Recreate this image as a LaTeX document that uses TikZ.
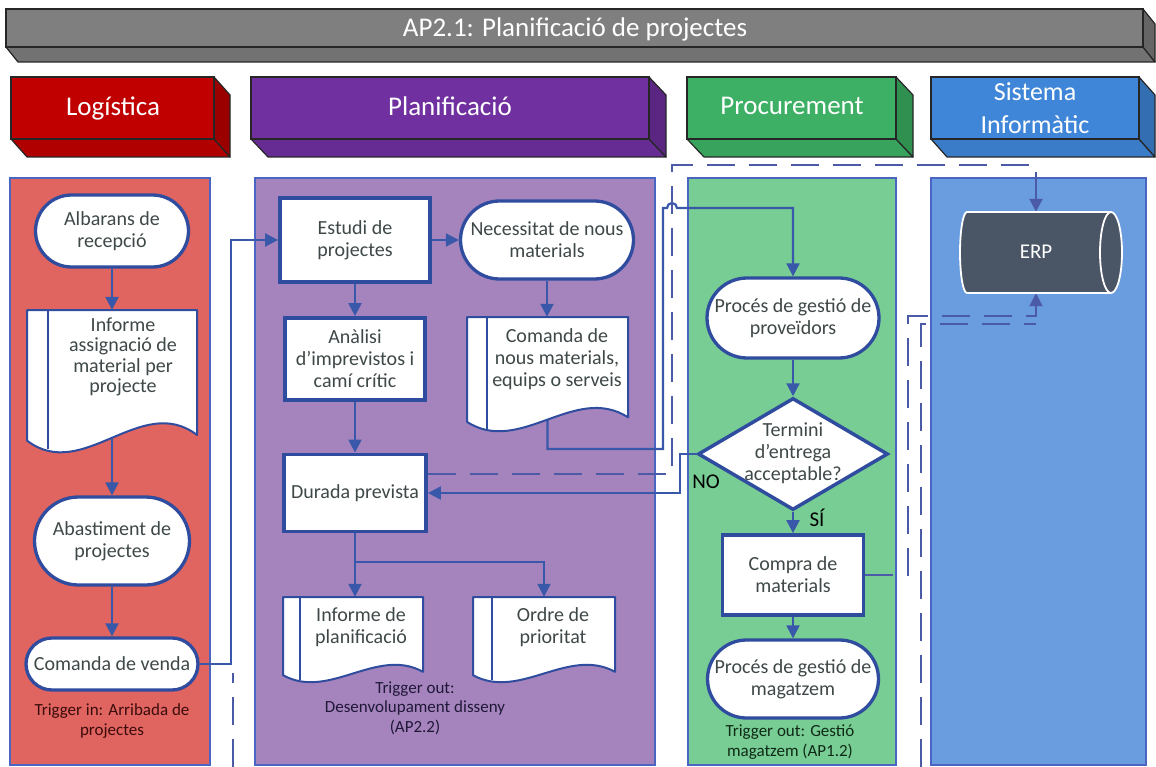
\documentclass[tikz,border=0pt]{standalone}
\usepackage{fontspec}
\setmainfont{Carlito}
\usetikzlibrary{shapes.geometric,arrows.meta,calc}
\pgfdeclarelayer{lanes}
\pgfdeclarelayer{links}
\pgfsetlayers{lanes,links,main}

% palette
\definecolor{laneedge}{HTML}{4A66C2}
\definecolor{lanered}{HTML}{E0645F}
\definecolor{lanepurple}{HTML}{A584BD}
\definecolor{lanegreen}{HTML}{78CD94}
\definecolor{laneblue}{HTML}{6A9CE0}
\definecolor{nodeedge}{HTML}{2F4C9F}
\definecolor{linkblue}{HTML}{3A58AA}
\definecolor{dashblue}{HTML}{4B5BA8}
\definecolor{nodetext}{HTML}{3F4848}
\definecolor{erpfill}{HTML}{4A5565}
\definecolor{hdedge}{HTML}{262626}
\definecolor{hdgrayF}{HTML}{7F7F7F}\definecolor{hdgrayB}{HTML}{727272}\definecolor{hdgrayS}{HTML}{656565}
\definecolor{hdredF}{HTML}{C00000}\definecolor{hdredB}{HTML}{B00000}\definecolor{hdredS}{HTML}{9A0000}
\definecolor{hdpurF}{HTML}{7030A0}\definecolor{hdpurB}{HTML}{672C93}\definecolor{hdpurS}{HTML}{5A2682}
\definecolor{hdgrnF}{HTML}{3DB065}\definecolor{hdgrnB}{HTML}{37A35C}\definecolor{hdgrnS}{HTML}{2F9050}
\definecolor{hdbluF}{HTML}{3F86D8}\definecolor{hdbluB}{HTML}{3A7CC8}\definecolor{hdbluS}{HTML}{336EB2}
\definecolor{trigred}{HTML}{3A0C0C}
\definecolor{trigpur}{HTML}{201838}
\definecolor{triggrn}{HTML}{0F2A17}

% 3D header slab: x0 y0 x1 y1 dx dy colour-prefix
\newcommand{\hdbox}[7]{%
  \filldraw[fill=#7B, draw=hdedge, line width=1.2pt, line join=round]
    (#1,#4) -- (#3,#4) -- ({#3+#5},{#4+#6}) -- ({#1+#5},{#4+#6}) -- cycle;
  \filldraw[fill=#7S, draw=hdedge, line width=1.2pt, line join=round]
    (#3,#2) -- ({#3+#5},{#2+#6}) -- ({#3+#5},{#4+#6}) -- (#3,#4) -- cycle;
  \filldraw[fill=#7F, draw=hdedge, line width=1.2pt] (#1,#2) rectangle (#3,#4);
}

% document symbol: name x0 y0 x1 y1(lowest point of wave) stripe-offset
\newcommand{\docnode}[6]{%
  \pgfmathsetmacro{\docw}{#4-#2}%
  \pgfmathsetmacro{\doch}{#5-#3}%
  \node[docframe, minimum width=\docw pt, minimum height=\doch pt] (#1) at ({(#2+#4)/2},{(#3+#5)/2}) {};
  \path[docline] (#2,#3) -- (#4,#3) -- (#4,{#5-0.12*\doch})
    .. controls ({#2+0.67*\docw},{#5-0.42*\doch}) and ({#2+0.33*\docw},{#5+0.22*\doch}) .. (#2,{#5-0.08*\doch}) -- cycle;
  \draw[docline, fill=none] ({#2+#6},#3) -- ({#2+#6},{#5-0.02*\doch});
}

\begin{document}
\begin{tikzpicture}[x=1pt,y=-1pt,
  lanebox/.style={draw=laneedge, line width=1.5pt},
  hdtext/.style={text=white, font=\fontsize{27}{33}\selectfont, align=center, inner sep=0pt},
  termbox/.style={rectangle, draw=nodeedge, line width=3.3pt, fill=white, inner sep=0pt,
    text=nodetext, font=\fontsize{20}{22}\selectfont, align=center},
  procbox/.style={rectangle, draw=nodeedge, line width=3.8pt, fill=white, inner sep=0pt,
    text=nodetext, font=\fontsize{20}{22}\selectfont, align=center},
  decbox/.style={diamond, draw=nodeedge, line width=3.5pt, fill=white, inner sep=0pt},
  docframe/.style={rectangle, draw=none, inner sep=0pt},
  docline/.style={draw=nodeedge, line width=2pt, fill=white, line join=round},
  txt/.style={text=nodetext, font=\fontsize{20}{22}\selectfont, align=center, inner sep=0pt},
  trig/.style={font=\fontsize{17}{19.5}\selectfont, align=center, inner sep=0pt},
  lbl/.style={text=black, font=\fontsize{21}{24}\selectfont, inner sep=0pt},
  flow/.style={draw=linkblue, line width=2.2pt, -{Triangle[length=13pt,width=13pt]}},
  plainlink/.style={draw=linkblue, line width=2.2pt},
  dashlink/.style={draw=dashblue, line width=2pt, dash pattern=on 28pt off 14pt},
  dashflow/.style={dashlink, -{Triangle[length=13pt,width=13pt]}},
  erpbody/.style={fill=erpfill, draw=white, line width=1.8pt, line join=round}
]
\useasboundingbox (0,0) rectangle (1156,767);

\begin{pgfonlayer}{lanes}
  \fill[white] (0,0) rectangle (1156,767);
  % title bar and lane headers
  \hdbox{6}{9}{1143}{47}{12}{15}{hdgray}
  \hdbox{11}{77}{214}{139}{16}{18}{hdred}
  \hdbox{251}{77}{649}{139}{17}{18}{hdpur}
  \hdbox{687}{77}{896}{139}{17}{18}{hdgrn}
  \hdbox{931}{77}{1139}{139}{16}{18}{hdblu}
  % swim lanes
  \path[lanebox, fill=lanered] (10,178) rectangle (210,765);
  \path[lanebox, fill=lanepurple] (255,178) rectangle (655,765);
  \path[lanebox, fill=lanegreen] (688,178) rectangle (896,765);
  \path[lanebox, fill=laneblue] (931,178) rectangle (1146,765);
\end{pgfonlayer}

% header texts
\node[hdtext] (title) at (575,29) {AP2.1: Planificació de projectes};
\node[hdtext] (hlog) at (113,108) {Logística};
\node[hdtext] (hpla) at (450,106) {Planificació};
\node[hdtext] (hpro) at (792,106) {Procurement};
\node[hdtext, font=\fontsize{26}{33}\selectfont] (hsis) at (1035,108) {Sistema\\Informàtic};

% Logistica
\node[termbox, minimum width=153pt, minimum height=72pt, rounded corners=36pt] (alb) at (112,231) {Albarans de\\recepció};
\docnode{inf}{27}{310}{197}{452}{21}
\node[txt, font=\fontsize{20}{20.5}\selectfont] (inft) at (123,357) {Informe\\assignació de\\material per\\projecte};
\node[termbox, minimum width=155pt, minimum height=88pt, rounded corners=44pt] (aba) at (112,541) {Abastiment de\\projectes};
\node[termbox, minimum width=172pt, minimum height=52pt, rounded corners=26pt] (com) at (112,664) {Comanda de venda};
\node[trig, text=trigred] (tin) at (112,721) {Trigger in: Arribada de\\projectes};

% Planificacio
\node[procbox, minimum width=150pt, minimum height=84pt] (est) at (355,240) {Estudi de\\projectes};
\node[termbox, minimum width=173pt, minimum height=78pt, rounded corners=39pt] (nec) at (547,240) {Necessitat de nous\\materials};
\node[procbox, minimum width=140pt, minimum height=82pt] (ana) at (355,359) {Anàlisi\\d’imprevistos i\\camí crític};
\docnode{cnm}{467}{317}{628}{431}{20}
\node[txt] (cnmt) at (557,359) {Comanda de\\nous materials,\\equips o serveis};
\node[procbox, minimum width=142pt, minimum height=77pt] (dur) at (355,493) {Durada prevista};
\docnode{ipl}{283}{597}{423}{682}{17}
\node[txt] (iplt) at (361,627) {Informe de\\planificació};
\docnode{ord}{473}{597}{615}{682}{19}
\node[txt] (ordt) at (553,627) {Ordre de\\prioritat};
\node[trig, text=trigpur] (tout2) at (415,708) {Trigger out:\\Desenvolupament disseny\\(AP2.2)};

% Procurement
\node[termbox, minimum width=172pt, minimum height=80pt, rounded corners=40pt] (prov) at (793,318) {Procés de gestió de\\proveïdors};
\node[decbox, minimum width=190pt, minimum height=112pt] (dmd) at (793,454) {};
\node[txt] (dmdt) at (793,453) {Termini\\d’entrega\\acceptable?};
\node[procbox, minimum width=141pt, minimum height=80pt] (cmp) at (793,575) {Compra de\\materials};
\node[termbox, minimum width=171pt, minimum height=78pt, rounded corners=39pt] (mag) at (793,679) {Procés de gestió de\\magatzem};
\node[trig, text=triggrn] (tout3) at (790,742) {Trigger out: Gestió\\magatzem (AP1.2)};
\node[lbl] (no) at (706,482) {NO};
\node[lbl] (si) at (817,518) {SÍ};

% Sistema informatic: ERP storage
\path[erpbody] (967,212) -- (1111,212) arc[start angle=-90, end angle=90, x radius=11, y radius=40.5]
  -- (967,293) arc[start angle=90, end angle=270, x radius=7, y radius=40.5] -- cycle;
\draw[erpbody, fill=none] (1111,212) arc[start angle=-90, end angle=-270, x radius=11, y radius=40.5];
\node[inner sep=0pt, minimum width=150pt, minimum height=81pt] (erp) at (1036,252.5) {};
\node[text=white, font=\fontsize{21}{24}\selectfont, inner sep=0pt] (erpt) at (1036,252) {ERP};

% connectors
\begin{pgfonlayer}{links}
  \draw[flow] (alb.south) -- (alb.south |- inf.north);
  \draw[flow] (inf.center -| aba.north) -- (aba.north);
  \draw[flow] (aba.south) -- (com.north);
  \draw[flow] (com.east) -- ++(31,0) |- (est.west);
  \draw[flow] (est.east) -- (nec.west);
  \draw[flow] (est.south) -- (ana.north);
  \draw[flow] (ana.south) -- (dur.north);
  \draw[flow] (nec.south) -- (nec.south |- cnm.north);
  \coordinate (split) at (355,562);
  \draw[plainlink] (dur.south) -- (split);
  \draw[flow] (split) -- (split |- ipl.north);
  \draw[flow] (split) -| (ord.north);
  \draw[flow] (cnm.center) |- (663,449) -- (663,208) -- (667,208)
    arc[start angle=180, end angle=360, radius=5] -- (793,208) -- (prov.north);
  \draw[flow] (prov.south) -- (dmd.north);
  \draw[flow] (dmd.south) -- (cmp.north);
  \draw[flow] (cmp.south) -- (mag.north);
  \draw[flow] (dmd.west) -- ++(-16,0) |- (dur.east);
  \draw[dashflow] ($(dur.east)+(0,-19)$) -| (672,165) -- (1036,165) -- (erp.north);
  \draw[dashflow] (cmp.east) -| (908,316) -- (1036,316) -- (erp.south);
  \coordinate (offB) at (921,767);
  \draw[dashlink] (offB) |- (1036,324);
  \coordinate (offA) at (233,767);
  \draw[dashlink] (offA) -- (233,673);
\end{pgfonlayer}
\end{tikzpicture}
\end{document}
